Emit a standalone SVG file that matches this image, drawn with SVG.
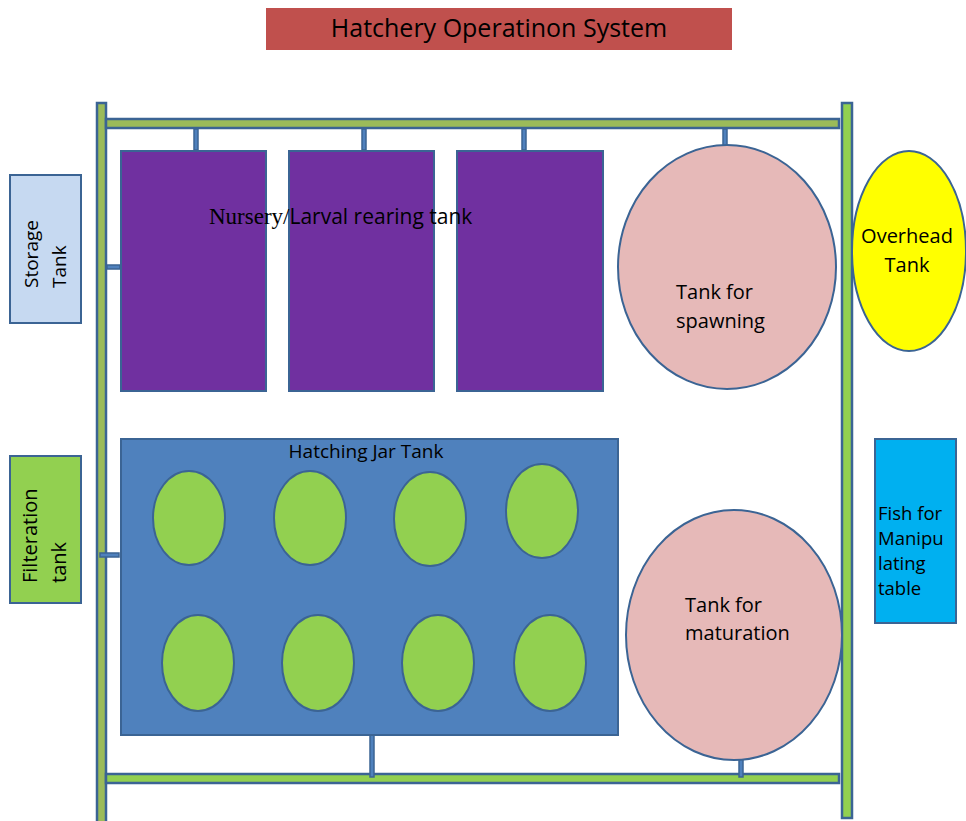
<svg xmlns="http://www.w3.org/2000/svg" width="966" height="821" viewBox="0 0 966 821">
<style>
  text { font-family: "Open Sans", "Liberation Sans", Arial, sans-serif; fill: #000; }
  .ol { stroke: #3B6494; stroke-width: 2; }
  .pipeA { fill: #9BBB59; stroke: #3B6494; stroke-width: 2.5; }
  .pipeB { fill: #92D050; stroke: #3B6494; stroke-width: 2.5; }
  .conn { fill: #4F81BD; stroke: #3B6494; stroke-width: 1.5; }
  .lbl { font-size: 20px; }
</style>
<rect width="966" height="821" fill="#fff"/>

<g id="title">
  <rect x="266" y="8" width="466" height="42" fill="#C0504D"/>
  <text x="499" y="37" font-size="25" text-anchor="middle">Hatchery Operatinon System</text>
</g>

<g id="pipes">
  <rect class="pipeA" x="97" y="103" width="9" height="720"/>
  <rect class="pipeA" x="106" y="119" width="733" height="9"/>
  <rect class="pipeB" x="842" y="103" width="10" height="715"/>
  <rect class="pipeB" x="106" y="774" width="733" height="9"/>
</g>

<g id="connectors">
  <rect class="conn" x="194" y="129" width="4" height="21"/>
  <rect class="conn" x="362" y="129" width="4" height="21"/>
  <rect class="conn" x="522" y="129" width="4" height="21"/>
  <rect class="conn" x="723" y="129" width="4" height="21"/>
  <rect class="conn" x="107" y="265" width="13" height="4"/>
  <rect class="conn" x="100" y="553" width="19" height="4"/>
  <rect class="conn" x="370" y="733" width="4" height="44"/>
  <rect class="conn" x="739" y="733" width="4" height="44"/>
</g>

<g id="storage-tank">
  <rect class="ol" x="10" y="175" width="71" height="148" fill="#C6D9F1"/>
  <text font-size="19" transform="translate(38,288) rotate(-90)">Storage</text>
  <text font-size="19" transform="translate(66,288) rotate(-90)">Tank</text>
</g>

<g id="filtration-tank">
  <rect class="ol" x="10" y="456" width="71" height="147" fill="#92D050"/>
  <text class="lbl" transform="translate(37,583) rotate(-90)">Filteration</text>
  <text class="lbl" transform="translate(66,583) rotate(-90)">tank</text>
</g>

<g id="nursery-tanks">
  <rect class="ol" x="121" y="151" width="145" height="240" fill="#7030A0"/>
  <rect class="ol" x="289" y="151" width="145" height="240" fill="#7030A0"/>
  <rect class="ol" x="457" y="151" width="146" height="240" fill="#7030A0"/>
  <text x="209" y="224" font-size="21"><tspan font-family="Liberation Serif, 'Times New Roman', serif" font-size="23">Nursery/</tspan>Larval rearing tank</text>
</g>

<g id="spawning-tank">
  <ellipse class="ol" cx="727" cy="267" rx="109" ry="122" fill="#E6B9B8"/>
  <text class="lbl" x="676" y="299">Tank for</text>
  <text class="lbl" x="676" y="328">spawning</text>
</g>

<g id="overhead-tank">
  <ellipse class="ol" cx="909" cy="251" rx="57" ry="100" fill="#FFFF00"/>
  <text class="lbl" x="907" y="243" text-anchor="middle">Overhead</text>
  <text class="lbl" x="907" y="272" text-anchor="middle">Tank</text>
</g>

<g id="hatching-jar-tank">
  <rect class="ol" x="121" y="439" width="497" height="296" fill="#4F81BD"/>
  <text x="366" y="458" font-size="19" text-anchor="middle">Hatching Jar Tank</text>
  <g fill="#92D050" class="ol">
    <ellipse cx="189" cy="518" rx="36" ry="47"/>
    <ellipse cx="310" cy="518" rx="36" ry="47"/>
    <ellipse cx="430" cy="519" rx="36" ry="47"/>
    <ellipse cx="542" cy="511" rx="36" ry="47"/>
    <ellipse cx="198" cy="663" rx="36" ry="48"/>
    <ellipse cx="318" cy="663" rx="36" ry="48"/>
    <ellipse cx="438" cy="663" rx="36" ry="48"/>
    <ellipse cx="550" cy="663" rx="36" ry="48"/>
  </g>
</g>

<g id="maturation-tank">
  <ellipse class="ol" cx="734" cy="635" rx="108" ry="125" fill="#E6B9B8"/>
  <text class="lbl" x="685" y="612">Tank for</text>
  <text class="lbl" x="685" y="640">maturation</text>
</g>

<g id="manipulating-table">
  <rect class="ol" x="875" y="439" width="81" height="184" fill="#00B0F0"/>
  <text font-size="18.5" x="878" y="520">Fish for</text>
  <text font-size="18.5" x="878" y="545">Manipu</text>
  <text font-size="18.5" x="878" y="570">lating</text>
  <text font-size="18.5" x="878" y="595">table</text>
</g>
</svg>
